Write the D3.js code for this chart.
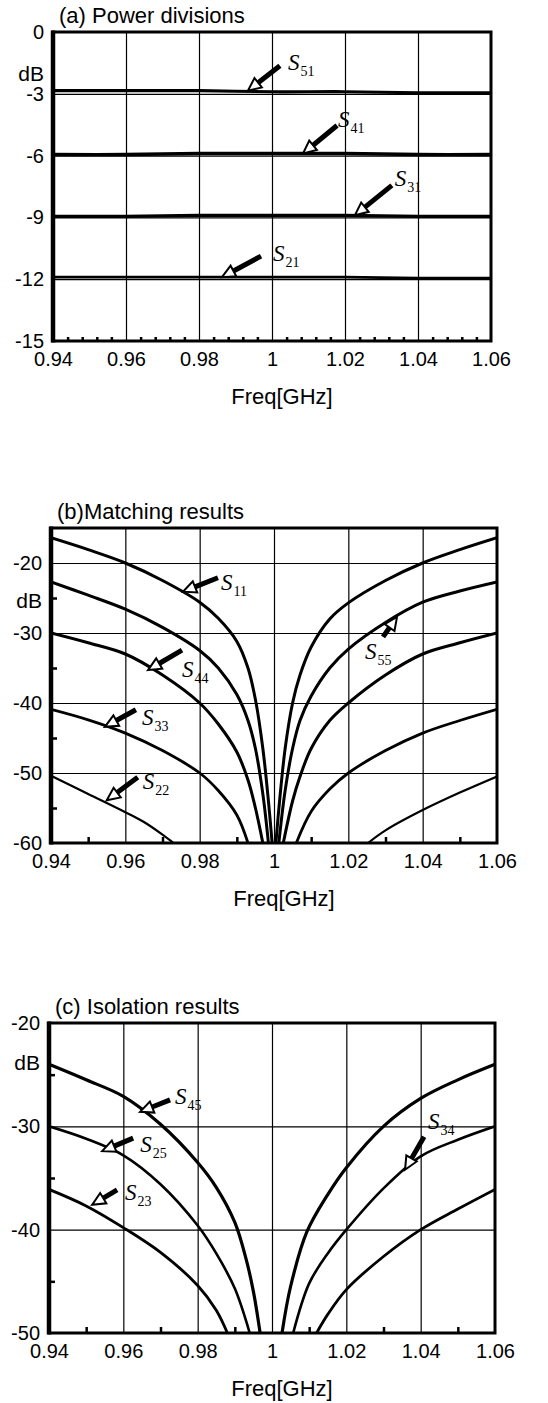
<!DOCTYPE html>
<html>
<head>
<meta charset="utf-8">
<script src="https://cdn.jsdelivr.net/npm/d3@7"></script>
<style>
  body { margin: 0; background: #fff; }
  text { font-family: "Liberation Sans", Arial, Helvetica, sans-serif; fill: #000; }
  .slab { font-family: "Liberation Serif", "Times New Roman", serif; }
</style>
</head>
<body>
<script>
// frequency axis shared by all three panels
var freqTicks = [0.94, 0.96, 0.98, 1.0, 1.02, 1.04, 1.06];
var freqTickLabels = ["0.94", "0.96", "0.98", "1", "1.02", "1.04", "1.06"];

// (a) power divisions, read at every 0.02 GHz
var powerFreq = [0.94, 0.96, 0.98, 1.0, 1.02, 1.04, 1.06];
var s51 = [-2.85, -2.85, -2.85, -2.9, -2.9, -2.95, -2.95];
var s41 = [-5.95, -5.95, -5.9, -5.9, -5.9, -5.95, -5.95];
var s31 = [-8.95, -8.95, -8.9, -8.9, -8.9, -8.95, -8.95];
var s21 = [-11.9, -11.9, -11.9, -11.9, -11.9, -11.95, -11.95];
var powerTicks = [0, -3, -6, -9, -12, -15];

// (b) matching results [freq, dB], null = curve below the -60 floor
var s11 = [[0.94,-16.4],[0.95,-18.1],[0.96,-20],[0.97,-22.5],[0.98,-25.6],[0.985,-27.9],[0.99,-31.2],[0.993,-35],[0.995,-39.5],[0.997,-46.5],[0.9985,-54],[0.9995,-60],
  null,[1.0005,-60],[1.0015,-54],[1.003,-46.5],[1.005,-40],[1.007,-36],[1.01,-32],[1.015,-28],[1.02,-25.7],[1.03,-22.5],[1.04,-20],[1.05,-18.1],[1.06,-16.4]];
var s55 = [[0.94,-22.7],[0.95,-24.6],[0.96,-26.6],[0.97,-29.2],[0.98,-32.5],[0.985,-35],[0.99,-38.8],[0.993,-42.5],[0.995,-46.5],[0.997,-53],[0.9985,-60],
  null,[1.0013,-60],[1.003,-52.5],[1.005,-46.5],[1.007,-42.5],[1.01,-39],[1.015,-35],[1.02,-32.3],[1.03,-28.5],[1.04,-25.6],[1.05,-24],[1.06,-22.7]];
var s44 = [[0.94,-30],[0.95,-31.4],[0.96,-33],[0.97,-36],[0.98,-40],[0.985,-43],[0.99,-47],[0.993,-51],[0.995,-55],[0.997,-60],
  null,[1.0025,-60],[1.005,-54],[1.007,-50.5],[1.01,-46.5],[1.015,-42.5],[1.02,-40],[1.03,-36],[1.04,-33],[1.05,-31.4],[1.06,-30]];
var s33 = [[0.94,-40.9],[0.95,-42.4],[0.96,-44.3],[0.97,-46.8],[0.98,-50],[0.985,-52.5],[0.99,-56],[0.993,-60],
  null,[1.006,-60],[1.01,-55.5],[1.015,-52.3],[1.02,-50],[1.03,-46.8],[1.04,-44.3],[1.05,-42.5],[1.06,-40.9]];
var s22 = [[0.94,-50.4],[0.95,-53],[0.96,-55.6],[0.965,-57],[0.97,-58.8],[0.973,-60],
  null,[1.0253,-60],[1.03,-58.2],[1.04,-55.3],[1.05,-52.8],[1.06,-50.5]];
var matchTicks = [-20, -30, -40, -50, -60];

// (c) isolation results [freq, dB], null = curve below the -50 floor
var s45 = [[0.94,-24],[0.95,-25.5],[0.96,-27.1],[0.97,-29.8],[0.98,-33.5],[0.985,-35.9],[0.99,-39.3],[0.993,-42.8],[0.995,-46],[0.9968,-50],
  null,[1.0027,-50],[1.005,-45.5],[1.0094,-40.2],[1.015,-36.6],[1.02,-34],[1.03,-30],[1.04,-27.3],[1.05,-25.5],[1.06,-24]];
var s25 = [[0.94,-30],[0.95,-31.2],[0.96,-32.8],[0.97,-35.6],[0.98,-39.6],[0.985,-42.3],[0.99,-45.7],[0.994,-50],
  null,[1.0057,-50],[1.01,-45.2],[1.015,-42.3],[1.02,-40],[1.03,-36],[1.04,-32.9],[1.05,-31.3],[1.06,-30]];
var s23 = [[0.94,-36.1],[0.95,-37.7],[0.96,-39.8],[0.97,-42.2],[0.98,-45.4],[0.985,-47.8],[0.988,-50],
  null,[1.012,-50],[1.015,-48.2],[1.02,-45.8],[1.03,-42.6],[1.04,-40],[1.05,-38],[1.06,-36.1]];
var isoTicks = [-20, -30, -40, -50];

var svg = d3.select("body").append("svg")
    .attr("width", 548)
    .attr("height", 1403)
    .style("background", "#fff");

function pairs(vals) {
  return powerFreq.map(function(f, i) { return [f, vals[i]]; });
}

var panels = [
  {
    id: "a", title: "(a) Power divisions", left: 53, right: 491, top: 32, bottom: 341,
    yDomain: [-15, 0], yTicks: powerTicks, grid: [-3, -6, -9, -12], yMinor: [],
    xMinor: d3.range(0.944, 1.06, 0.004).filter(function(d) { return Math.abs((d - 0.94) / 0.02 - Math.round((d - 0.94) / 0.02)) > 0.01; }),
    dbAt: -2,
    series: [
      { data: pairs(s51), w: 3.2 }, { data: pairs(s41), w: 3.4 },
      { data: pairs(s31), w: 3.2 }, { data: pairs(s21), w: 2.8 }
    ],
    notes: [
      { s: "51", f: 0.9934, v: -2.85, tail: [32, -25], lab: [40, -28] },
      { s: "41", f: 1.0085, v: -5.9, tail: [34, -28], lab: [35, -34] },
      { s: "31", f: 1.0227, v: -8.9, tail: [37, -30], lab: [40, -36] },
      { s: "21", f: 0.9863, v: -11.9, tail: [39, -21], lab: [51, -23] }
    ]
  },
  {
    id: "b", title: "(b)Matching results", left: 51, right: 497, top: 528, bottom: 843,
    yDomain: [-60, -15], yTicks: matchTicks, grid: [-20, -30, -40, -50], yMinor: [-25, -35, -45, -55],
    xMinor: [0.95, 0.97, 0.99, 1.01, 1.03, 1.05],
    dbAt: -25.4,
    series: [
      { data: s11, w: 3 }, { data: s55, w: 3 }, { data: s44, w: 3 },
      { data: s33, w: 2.8 }, { data: s22, w: 2.2 }
    ],
    notes: [
      { s: "11", f: 0.9755, v: -24.1, tail: [35, -14], lab: [38, -9] },
      { s: "55", f: 1.0331, v: -27.7, tail: [-14, 20], lab: [-32, 35] },
      { s: "44", f: 0.9661, v: -35.3, tail: [34, -20], lab: [34, 0] },
      { s: "33", f: 0.9545, v: -43.4, tail: [31, -17], lab: [37, -9] },
      { s: "22", f: 0.955, v: -53.9, tail: [31, -23], lab: [36, -18] }
    ]
  },
  {
    id: "c", title: "(c) Isolation results", left: 49, right: 495, top: 1023, bottom: 1333,
    yDomain: [-50, -20], yTicks: isoTicks, grid: [-30, -40], yMinor: [-25, -35, -45],
    xMinor: [0.95, 0.97, 0.99, 1.01, 1.03, 1.05],
    dbAt: -23.8,
    series: [
      { data: s45, w: 3.2 }, { data: s25, w: 2.6 }, { data: s23, w: 2.8 }
    ],
    notes: [
      { s: "45", f: 0.9645, v: -28.6, tail: [30, -12], lab: [35, -15] },
      { s: "25", f: 0.9543, v: -32.4, tail: [31, -13], lab: [38, -6] },
      { s: "23", f: 0.9516, v: -37.6, tail: [25, -15], lab: [33, -12] },
      { s: "34", f: 1.0358, v: -34.2, tail: [19, -33], lab: [23, -48] }
    ]
  }
];

panels.forEach(drawPanel);

function drawPanel(p) {
  var x = d3.scaleLinear().domain([0.94, 1.06]).range([p.left, p.right]);
  var y = d3.scaleLinear().domain(p.yDomain).range([p.bottom, p.top]);
  var h = p.bottom - p.top, w = p.right - p.left;
  var g = svg.append("g").attr("class", "panel-" + p.id);

  g.append("clipPath").attr("id", "clip-" + p.id)
    .append("rect").attr("x", p.left).attr("y", p.top).attr("width", w).attr("height", h);

  // vertical grid
  g.append("g")
    .attr("transform", "translate(0," + p.bottom + ")")
    .call(d3.axisBottom(x).tickValues(freqTicks.slice(1, -1)).tickSize(-h).tickFormat(""))
    .call(function(a) { a.select(".domain").remove(); })
    .selectAll("line").attr("stroke-width", 1.2);

  // horizontal grid
  g.append("g")
    .attr("transform", "translate(" + p.left + ",0)")
    .call(d3.axisRight(y).tickValues(p.grid).tickSize(w).tickFormat(""))
    .call(function(a) { a.select(".domain").remove(); })
    .selectAll("line").attr("stroke-width", 1.2);

  // minor ticks, pointing inward
  g.append("g")
    .attr("transform", "translate(0," + p.bottom + ")")
    .call(d3.axisTop(x).tickValues(p.xMinor).tickSize(p.id === "a" ? 4 : 6).tickFormat(""))
    .call(function(a) { a.select(".domain").remove(); })
    .selectAll("line").attr("stroke-width", 2.5);
  g.append("g")
    .attr("transform", "translate(" + p.left + ",0)")
    .call(d3.axisRight(y).tickValues(p.yMinor).tickSize(6).tickFormat(""))
    .call(function(a) { a.select(".domain").remove(); })
    .selectAll("line").attr("stroke-width", 2.5);

  // curves
  var line = d3.line()
    .defined(function(d) { return d !== null; })
    .x(function(d) { return x(d[0]); })
    .y(function(d) { return y(d[1]); })
    .curve(d3.curveCatmullRom.alpha(0.5));

  g.append("g").attr("clip-path", "url(#clip-" + p.id + ")")
    .selectAll("path")
    .data(p.series)
    .enter().append("path")
    .attr("d", function(d) { return line(d.data); })
    .attr("fill", "none")
    .attr("stroke", "#000")
    .attr("stroke-width", function(d) { return d.w; });

  // frame
  g.append("rect")
    .attr("x", p.left).attr("y", p.top).attr("width", w).attr("height", h)
    .attr("fill", "none").attr("stroke", "#000").attr("stroke-width", 3);
  g.append("line")
    .attr("x1", p.left).attr("x2", p.left).attr("y1", p.top - 1.5).attr("y2", p.bottom + 1.5)
    .attr("stroke", "#000").attr("stroke-width", 4.5);

  // tick labels
  var xa = g.append("g")
    .attr("transform", "translate(0," + p.bottom + ")")
    .call(d3.axisBottom(x).tickValues(freqTicks)
      .tickFormat(function(d, i) { return freqTickLabels[i]; })
      .tickSize(0).tickPadding(11));
  xa.select(".domain").remove();
  xa.selectAll("text").style("font-size", "20px");

  var ya = g.append("g")
    .attr("transform", "translate(" + p.left + ",0)")
    .call(d3.axisLeft(y).tickValues(p.yTicks).tickSize(0).tickPadding(9)
      .tickFormat(function(d) { return String(d); }));
  ya.select(".domain").remove();
  ya.selectAll("text").style("font-size", "20px");

  g.append("text")
    .attr("x", p.left - 9).attr("y", y(p.dbAt)).attr("dy", "0.35em")
    .attr("text-anchor", "end").style("font-size", "21px").text("dB");

  g.append("text")
    .attr("x", p.left + 6).attr("y", p.top - 9)
    .style("font-size", "22px").text(p.title);

  g.append("text")
    .attr("x", (p.left + p.right) / 2 + 10).attr("y", p.bottom + 63)
    .attr("text-anchor", "middle").style("font-size", "22px").text("Freq[GHz]");

  // arrow labels
  p.notes.forEach(function(n) {
    var tx = x(n.f), ty = y(n.v);
    var sx = tx + n.tail[0], sy = ty + n.tail[1];
    var len = Math.hypot(tx - sx, ty - sy);
    var ux = (tx - sx) / len, uy = (ty - sy) / len;
    var hl = 13, hw = 6;
    var bx = tx - ux * hl, by = ty - uy * hl;
    g.append("line")
      .attr("x1", sx).attr("y1", sy).attr("x2", bx).attr("y2", by)
      .attr("stroke", "#000").attr("stroke-width", 5);
    g.append("path")
      .attr("d", d3.line()([[tx, ty], [bx - uy * hw, by + ux * hw], [bx + uy * hw, by - ux * hw]]) + "Z")
      .attr("fill", "#fff").attr("stroke", "#000").attr("stroke-width", 2);
    var t = g.append("text").attr("class", "slab")
      .attr("x", tx + n.lab[0]).attr("y", ty + n.lab[1] + 7);
    t.append("tspan").style("font-style", "italic").style("font-size", "23px").text("S");
    t.append("tspan").attr("dx", 1).attr("dy", 6).style("font-size", "14px").text(n.s);
  });
}
</script>
</body>
</html>
